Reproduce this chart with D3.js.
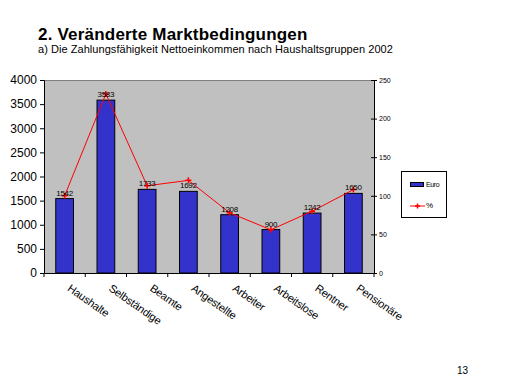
<!DOCTYPE html>
<html>
<head>
<meta charset="utf-8">
<script src="https://d3js.org/d3.v7.min.js"></script>
<style>
  body { margin: 0; background: #fff; }
  text { font-family: Arial, "Liberation Sans", sans-serif; }
</style>
</head>
<body>
<script>
// chart data
var categories = ["Haushalte", "Selbständige", "Beamte", "Angestellte", "Arbeiter", "Arbeitslose", "Rentner", "Pensionäre"];
var euro = [1542, 3583, 1733, 1692, 1208, 900, 1242, 1650];
var percent = [100, 232, 113, 120, 78, 56, 80, 108];
var leftTicks = [0, 500, 1000, 1500, 2000, 2500, 3000, 3500, 4000];
var rightTicks = [0, 50, 100, 150, 200, 250];

var svg = d3.select("body").append("svg")
    .attr("width", 512)
    .attr("height", 384);

// titles
svg.append("text").attr("x", 38).attr("y", 40)
    .attr("font-size", 17).attr("font-weight", "bold")
    .attr("letter-spacing", 0.2)
    .text("2. Veränderte Marktbedingungen");
svg.append("text").attr("x", 38).attr("y", 53)
    .attr("font-size", 11)
    .attr("letter-spacing", 0.05)
    .text("a) Die  Zahlungsfähigkeit Nettoeinkommen nach Haushaltsgruppen 2002");
svg.append("text").attr("x", 457).attr("y", 374)
    .attr("font-size", 10)
    .text("13");

// plot area bounds
var pLeft = 44, pRight = 374, pTop = 80, pBottom = 273;

var x = d3.scaleBand().domain(categories).range([pLeft, pRight]);
var y = d3.scaleLinear().domain([0, 4000]).range([pBottom, pTop]);
var y2 = d3.scaleLinear().domain([0, 250]).range([pBottom, pTop]);

// plot area
svg.append("rect").attr("x", pLeft).attr("y", pTop)
    .attr("width", pRight - pLeft).attr("height", pBottom - pTop)
    .attr("fill", "#c0c0c0");
svg.append("line").attr("x1", pLeft).attr("x2", pRight)
    .attr("y1", pTop + 0.5).attr("y2", pTop + 0.5)
    .attr("stroke", "#808080");

// bars
var bw = x.bandwidth() * 0.43;
svg.selectAll(".bar").data(euro).enter().append("rect")
    .attr("class", "bar")
    .attr("x", function(d, i) { return x(categories[i]) + (x.bandwidth() - bw) / 2; })
    .attr("y", function(d) { return y(d); })
    .attr("width", bw)
    .attr("height", function(d) { return pBottom - y(d); })
    .attr("fill", "#3333cc")
    .attr("stroke", "#000")
    .attr("stroke-width", 1);

// percent line
var line = d3.line()
    .x(function(d, i) { return x(categories[i]) + x.bandwidth() / 2; })
    .y(function(d) { return y2(d); });
svg.append("path").datum(percent)
    .attr("d", line)
    .attr("fill", "none")
    .attr("stroke", "#ff0000")
    .attr("stroke-width", 1);
svg.selectAll(".mk").data(percent).enter().append("path")
    .attr("class", "mk")
    .attr("transform", function(d, i) {
        return "translate(" + (x(categories[i]) + x.bandwidth() / 2) + "," + y2(d) + ")";
    })
    .attr("d", "M-3,0H3M0,-3V3")
    .attr("stroke", "#ff0000")
    .attr("stroke-width", 1.5);

// value labels
svg.selectAll(".lbl").data(euro).enter().append("text")
    .attr("class", "lbl")
    .attr("x", function(d, i) { return x(categories[i]) + x.bandwidth() / 2; })
    .attr("y", function(d) { return y(d) - 3; })
    .attr("text-anchor", "middle")
    .attr("font-size", 8)
    .attr("letter-spacing", -0.3)
    .text(function(d) { return d; });

// left axis
var gl = svg.append("g").attr("transform", "translate(" + pLeft + ",0)")
    .call(d3.axisLeft(y).tickValues(leftTicks).tickFormat(d3.format("d")).tickSize(4).tickPadding(3));
gl.select(".domain").attr("stroke", "#000");
gl.selectAll("text").attr("font-size", 12).attr("font-family", "Arial, 'Liberation Sans', sans-serif");

// right axis
var gr = svg.append("g").attr("transform", "translate(" + pRight + ",0)")
    .call(d3.axisRight(y2).tickValues(rightTicks).tickFormat(d3.format("d")).tickSizeInner(3).tickSizeOuter(0).tickPadding(2));
gr.selectAll(".tick line").attr("x1", -3);
gr.selectAll("text").attr("font-size", 7).attr("font-family", "Arial, 'Liberation Sans', sans-serif");

// bottom axis
var gb = svg.append("g").attr("transform", "translate(0," + pBottom + ")")
    .call(d3.axisBottom(x).tickSize(0).tickFormat(""));
gb.selectAll(".tick").remove();
gb.selectAll(".cut").data(d3.range(categories.length + 1)).enter().append("line")
    .attr("class", "cut")
    .attr("x1", function(i) { return pLeft + i * x.bandwidth(); })
    .attr("x2", function(i) { return pLeft + i * x.bandwidth(); })
    .attr("y1", 0).attr("y2", 4)
    .attr("stroke", "#000");

svg.selectAll(".cat").data(categories).enter().append("text")
    .attr("class", "cat")
    .attr("transform", function(d) {
        return "translate(" + (x(d) + x.bandwidth() / 2 + 2) + "," + (pBottom + 17) + ") rotate(35)";
    })
    .attr("font-size", 11)
    .attr("letter-spacing", -0.2)
    .text(function(d) { return d; });

// legend
svg.append("rect").attr("x", 401.5).attr("y", 171.5).attr("width", 45).attr("height", 46)
    .attr("fill", "#fff").attr("stroke", "#000");
svg.append("rect").attr("x", 410.5).attr("y", 182.5).attr("width", 13).attr("height", 4)
    .attr("fill", "#3333cc").attr("stroke", "#000");
svg.append("text").attr("x", 426).attr("y", 187).attr("font-size", 7).attr("letter-spacing", -0.4).text("Euro");
svg.append("line").attr("x1", 410).attr("x2", 425).attr("y1", 206).attr("y2", 206)
    .attr("stroke", "#ff0000");
svg.append("path").attr("transform", "translate(417.5,206)")
    .attr("d", "M-2.5,0H2.5M0,-2.5V2.5").attr("stroke", "#ff0000").attr("stroke-width", 1.5);
svg.append("text").attr("x", 426).attr("y", 208).attr("font-size", 8).text("%");
</script>
</body>
</html>
